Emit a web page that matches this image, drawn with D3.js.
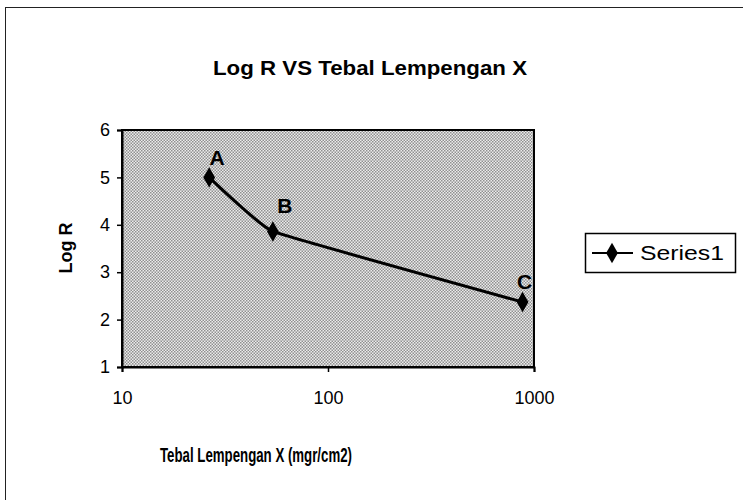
<!DOCTYPE html>
<html>
<head>
  <meta charset="UTF-8">
  <title>Log R VS Tebal Lempengan X</title>
  <script src="https://d3js.org/d3.v7.min.js"></script>
  <style>
    html, body { margin: 0; padding: 0; background: #fff; }
    svg { display: block; font-family: 'Liberation Sans', Arial, sans-serif; }
    .narrow { font-family: 'Liberation Sans Narrow', 'Liberation Sans', Arial, sans-serif; }
  </style>
</head>
<body>
  <div id="chart"></div>
  <script>
    // data
    var thickness = [26.5, 54, 880];
    var logR = [5.0, 3.86, 2.37];
    var pointNames = ["A", "B", "C"];
    var xTicks = [10, 100, 1000];
    var yTicks = [1, 2, 3, 4, 5, 6];

    var width = 743, height = 500;
    var plot = { left: 122, right: 534, top: 130, bottom: 367 };

    var svg = d3.select("#chart").append("svg")
      .attr("width", width)
      .attr("height", height);

    // fine halftone fill for plot area
    var defs = svg.append("defs");
    var pat = defs.append("pattern")
      .attr("id", "dots")
      .attr("width", 3).attr("height", 3)
      .attr("patternUnits", "userSpaceOnUse");
    pat.append("rect").attr("width", 3).attr("height", 3).attr("fill", "#ececec");
    pat.append("rect").attr("x", 0).attr("y", 0).attr("width", 1.5).attr("height", 1.5).attr("fill", "#909090");
    pat.append("rect").attr("x", 1.5).attr("y", 1.5).attr("width", 1.5).attr("height", 1.5).attr("fill", "#909090");

    // outer chart frame
    svg.append("rect")
      .attr("x", 5.5).attr("y", 7.5)
      .attr("width", 745).attr("height", 500)
      .attr("fill", "none")
      .attr("stroke", "#222")
      .attr("stroke-width", 1);

    var x = d3.scaleLog().domain([10, 1000]).range([plot.left, plot.right]);
    var y = d3.scaleLinear().domain([1, 6]).range([plot.bottom, plot.top]);

    svg.append("rect")
      .attr("x", plot.left).attr("y", plot.top)
      .attr("width", plot.right - plot.left)
      .attr("height", plot.bottom - plot.top)
      .attr("fill", "url(#dots)")
      .attr("stroke", "#000")
      .attr("stroke-width", 2);

    // axes
    var yAxis = d3.axisLeft(y).tickValues(yTicks).tickSize(5).tickFormat(d3.format("d"));
    var gy = svg.append("g")
      .attr("transform", "translate(" + plot.left + ",0)")
      .call(yAxis);
    gy.select(".domain").attr("stroke-width", 2);
    gy.selectAll(".tick line").attr("stroke-width", 1.5);
    gy.selectAll(".tick text")
      .attr("x", -12)
      .attr("font-size", 18)
      .attr("fill", "#000");

    var xAxis = d3.axisBottom(x).tickValues(xTicks).tickSize(5).tickFormat(d3.format("d"));
    var gx = svg.append("g")
      .attr("transform", "translate(0," + plot.bottom + ")")
      .call(xAxis);
    gx.select(".domain").attr("stroke-width", 2);
    gx.selectAll(".tick line").attr("stroke-width", 1.5);
    gx.selectAll(".tick text")
      .attr("y", 24)
      .attr("font-size", 18)
      .attr("fill", "#000");

    // line + markers
    var pts = thickness.map(function(d, i) { return { x: d, y: logR[i], name: pointNames[i] }; });

    var line = d3.line()
      .x(function(d) { return x(d.x); })
      .y(function(d) { return y(d.y); })
      .curve(d3.curveCardinal.tension(0.75));

    svg.append("path")
      .datum(pts)
      .attr("d", line)
      .attr("fill", "none")
      .attr("stroke", "#000")
      .attr("stroke-width", 3);

    var diamond = d3.symbol().type(d3.symbolDiamond).size(120);
    svg.selectAll(".marker")
      .data(pts)
      .enter().append("path")
      .attr("class", "marker")
      .attr("d", diamond)
      .attr("transform", function(d) { return "translate(" + x(d.x) + "," + y(d.y) + ")"; })
      .attr("fill", "#000");

    // hand-written point letters
    var letterOffsets = [[8, -12], [12, -18], [2, -13]];
    svg.selectAll(".letter")
      .data(pts)
      .enter().append("text")
      .attr("class", "letter")
      .attr("x", function(d, i) { return x(d.x) + letterOffsets[i][0]; })
      .attr("y", function(d, i) { return y(d.y) + letterOffsets[i][1]; })
      .attr("text-anchor", "middle")
      .attr("font-size", 21)
      .attr("font-weight", "bold")
      .attr("fill", "#000")
      .text(function(d) { return d.name; });

    // titles
    svg.append("text")
      .attr("class", "narrow")
      .attr("x", 370).attr("y", 75)
      .attr("text-anchor", "middle")
      .attr("font-size", 21)
      .attr("font-weight", "bold")
      .attr("textLength", 314)
      .attr("lengthAdjust", "spacingAndGlyphs")
      .text("Log R VS Tebal Lempengan X");

    svg.append("text")
      .attr("class", "narrow")
      .attr("transform", "translate(72,248) rotate(-90)")
      .attr("text-anchor", "middle")
      .attr("font-size", 18)
      .attr("font-weight", "bold")
      .text("Log R");

    svg.append("text")
      .attr("class", "narrow")
      .attr("x", 256).attr("y", 462)
      .attr("text-anchor", "middle")
      .attr("font-size", 21)
      .attr("font-weight", "bold")
      .attr("textLength", 192)
      .attr("lengthAdjust", "spacingAndGlyphs")
      .text("Tebal Lempengan X (mgr/cm2)");

    // legend
    var lg = svg.append("g").attr("transform", "translate(585,233)");
    lg.append("rect")
      .attr("x", 0.5).attr("y", 0.5)
      .attr("width", 150).attr("height", 39)
      .attr("fill", "#fff")
      .attr("stroke", "#000")
      .attr("stroke-width", 1.5);
    lg.append("line")
      .attr("x1", 7).attr("x2", 48)
      .attr("y1", 20).attr("y2", 20)
      .attr("stroke", "#000").attr("stroke-width", 2);
    lg.append("path")
      .attr("d", diamond)
      .attr("transform", "translate(27,20)")
      .attr("fill", "#000");
    lg.append("text")
      .attr("x", 55).attr("y", 27)
      .attr("font-size", 20)
      .attr("textLength", 84)
      .attr("lengthAdjust", "spacingAndGlyphs")
      .text("Series1");
  </script>
</body>
</html>
